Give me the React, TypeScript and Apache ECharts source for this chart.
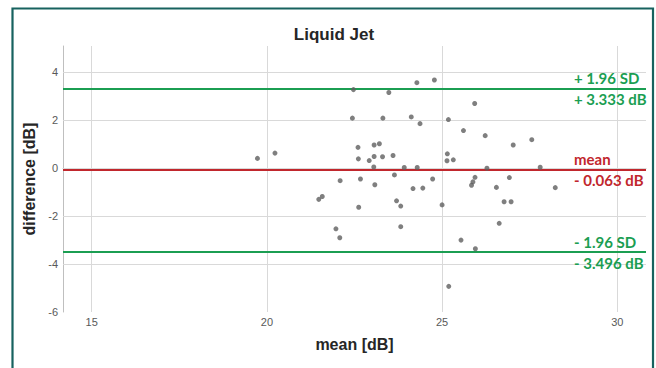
import React, { useEffect, useRef } from "react";
import * as echarts from "echarts";

const meanValues = [
  22.47, 22.44, 19.73, 20.23, 22.6, 23.06, 23.21, 22.61, 22.92, 23.06,
  23.05, 22.09, 22.67, 23.08, 24.28, 24.78, 23.48, 23.31, 24.12, 24.37,
  25.18, 25.93, 25.61, 26.23, 27.03, 27.56, 23.3, 23.6, 25.15, 25.14,
  25.32, 23.92, 24.29, 26.28, 27.8, 23.64, 24.73, 25.94, 25.84, 26.92,
  24.17, 24.45, 26.55, 28.23, 25.88, 23.7, 23.82, 25.0, 26.77, 26.97,
  23.82, 26.63, 25.54, 25.95, 25.19, 21.48, 21.58, 22.62, 21.97, 22.08,
];
const diffValues = [
  3.28, 2.09, 0.41, 0.63, 0.87, 0.97, 1.02, 0.39, 0.32, 0.49,
  0.05, -0.52, -0.45, -0.69, 3.57, 3.68, 3.16, 2.09, 2.14, 1.86,
  2.03, 2.7, 1.57, 1.36, 0.97, 1.19, 0.48, 0.53, 0.6, 0.31,
  0.35, 0.03, 0.03, 0.0, 0.04, -0.28, -0.45, -0.38, -0.71, -0.39,
  -0.85, -0.83, -0.8, -0.81, -0.57, -1.36, -1.58, -1.53, -1.4, -1.4,
  -2.44, -2.3, -3.0, -3.36, -4.93, -1.3, -1.18, -1.63, -2.53, -2.9,
];
const upperLimit = 3.333;
const meanDiff = -0.063;
const lowerLimit = -3.496;
const xTicks = [15, 20, 25, 30];
const yTicks = [-6, -4, -2, 0, 2, 4];

const GREEN = "#1b9e52";
const RED = "#c1272d";
const GRID = "#d9d9d9";

export default function App() {
  const ref = useRef<HTMLDivElement>(null);
  useEffect(() => {
    if (!ref.current) return;
    const chart = echarts.init(ref.current, null, { renderer: "svg" });
    const limitLabel = (color: string, text: string) => ({
      show: true,
      position: "insideEnd",
      align: "left",
      verticalAlign: "middle",
      distance: [72, 0],
      formatter: text,
      color,
      fontFamily: "Lato",
      fontWeight: "bold",
      fontSize: 15,
      lineHeight: 21,
      padding: [2, 0, 0, 0],
    });
    const nameStyle = {
      fontFamily: "Liberation Sans",
      fontWeight: "bold",
      fontSize: 16,
      color: "#262626",
    };
    const option: any = {
      animation: false,
      backgroundColor: "#ffffff",
      title: {
        text: "Liquid Jet",
        left: 334,
        top: 26,
        textAlign: "center",
        padding: 0,
        textStyle: {
          fontFamily: "Liberation Sans",
          fontWeight: "bold",
          fontSize: 17,
          color: "#262626",
        },
      },
      grid: { left: 63, right: 10, top: 46, bottom: 56 },
      xAxis: {
        type: "value",
        min: 14.18,
        max: 30.82,
        name: "mean [dB]",
        nameLocation: "middle",
        nameGap: 24,
        nameTextStyle: nameStyle,
        axisLine: { show: true, lineStyle: { color: "#bfbfbf", width: 1 } },
        axisTick: { show: false },
        splitLine: { show: false },
        axisLabel: {
          customValues: xTicks,
          margin: 4,
          fontFamily: "Liberation Sans",
          fontSize: 11,
          color: "#595959",
        },
      },
      yAxis: {
        type: "value",
        min: -6,
        max: 5.1,
        interval: 2,
        name: "difference [dB]",
        nameLocation: "middle",
        nameGap: 20,
        nameTextStyle: nameStyle,
        axisLine: { show: true, lineStyle: { color: "#bfbfbf", width: 1 } },
        axisTick: { show: false },
        splitLine: { show: false },
        axisLabel: {
          customValues: yTicks,
          margin: 5,
          fontFamily: "Liberation Sans",
          fontSize: 11,
          color: "#595959",
        },
      },
      graphic: [
        {
          type: "rect",
          shape: { x: 12.5, y: 8.5, width: 640.5, height: 380 },
          style: { fill: "none", stroke: "#17625f", lineWidth: 2.2 },
          silent: true,
          z: 100,
        },
      ],
      series: [
        {
          type: "scatter",
          data: [],
          silent: true,
          markLine: {
            silent: true,
            symbol: "none",
            z: 1,
            label: { show: false },
            lineStyle: { color: GRID, width: 1, type: "solid" },
            data: [
              ...xTicks.map((v) => ({ xAxis: v })),
              ...yTicks.filter((v) => v > -6).map((v) => ({ yAxis: v })),
            ],
          },
        },
        {
          type: "scatter",
          data: [],
          silent: true,
          markLine: {
            silent: true,
            symbol: "none",
            z: 3,
            data: [
              {
                yAxis: upperLimit,
                lineStyle: { color: GREEN, width: 2, type: "solid" },
                label: limitLabel(GREEN, `+ 1.96 SD\n+ ${upperLimit.toFixed(3)} dB`),
              },
              {
                yAxis: meanDiff,
                lineStyle: { color: RED, width: 2, type: "solid" },
                label: limitLabel(RED, `mean\n- ${Math.abs(meanDiff).toFixed(3)} dB`),
              },
              {
                yAxis: lowerLimit,
                lineStyle: { color: GREEN, width: 2, type: "solid" },
                label: limitLabel(GREEN, `- 1.96 SD\n- ${Math.abs(lowerLimit).toFixed(3)} dB`),
              },
            ],
          },
        },
        {
          type: "scatter",
          z: 6,
          symbolSize: 5,
          itemStyle: { color: "#5f5f5f" },
          data: meanValues.map((m, i) => [m, diffValues[i]]),
        },
      ],
    };
    chart.setOption(option);
    return () => chart.dispose();
  }, []);
  return (
    <div
      ref={ref}
      style={{ position: "fixed", left: 0, top: 0, width: 656, height: 368, background: "#fff" }}
    />
  );
}
